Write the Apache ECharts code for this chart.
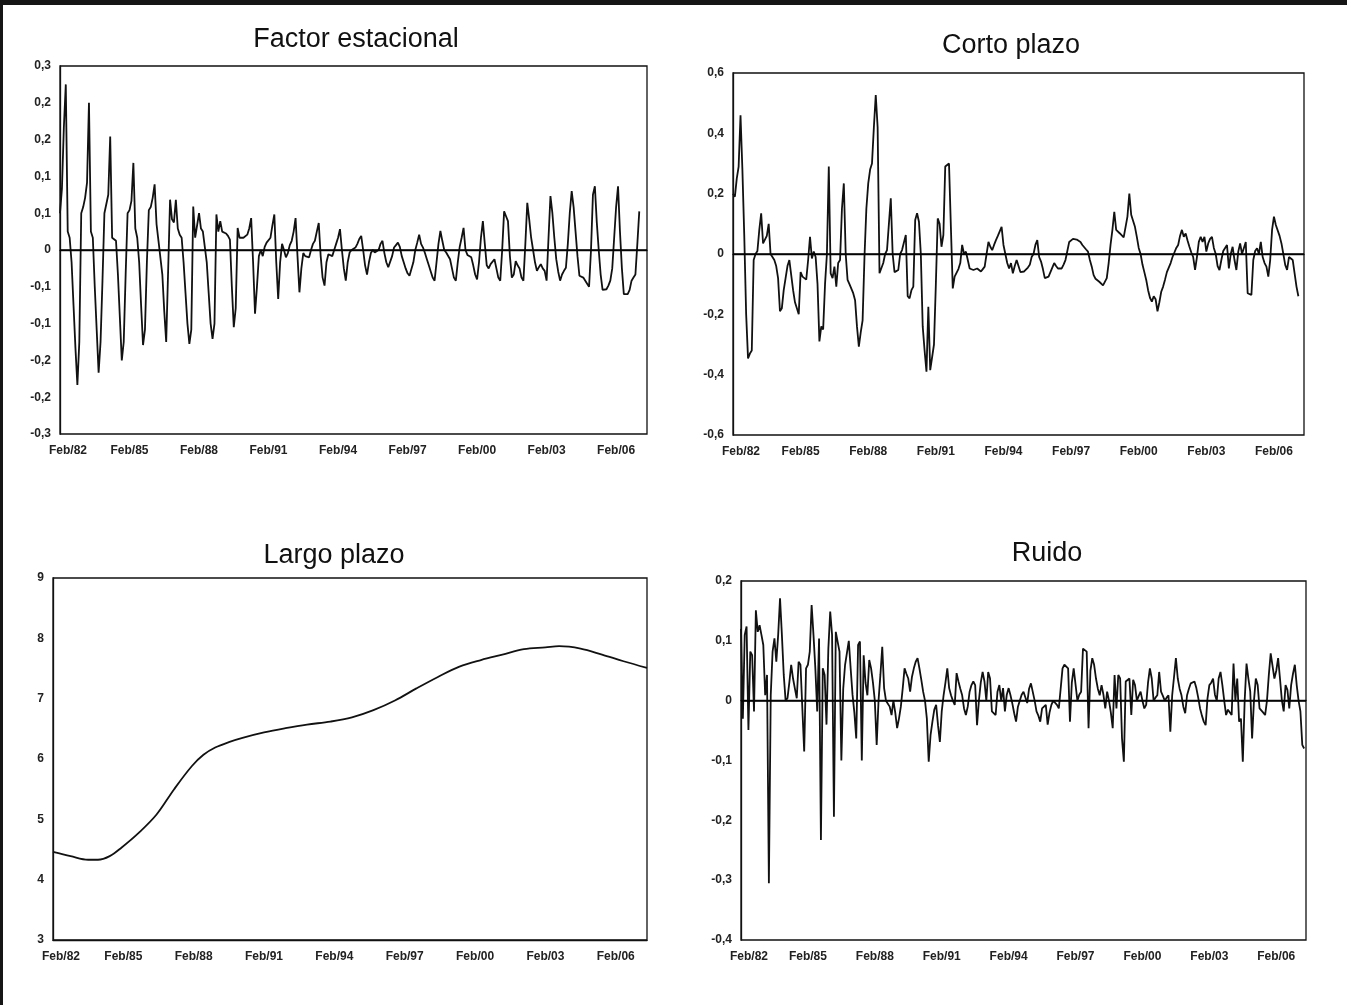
<!DOCTYPE html>
<html>
<head>
<meta charset="utf-8">
<title>Componentes de la serie</title>
<script src="https://cdn.jsdelivr.net/npm/echarts@6/dist/echarts.min.js"></script>
<style>
  html, body { margin: 0; padding: 0; background: #fff; }
  #chart { width: 1347px; height: 1005px; }
</style>
</head>
<body>
<div id="chart"></div>
<script>
// categorias: meses desde Feb/82
const nombresMes = ['Ene', 'Feb', 'Mar', 'Abr', 'May', 'Jun', 'Jul', 'Ago', 'Sep', 'Oct', 'Nov', 'Dic'];
const meses = [];
for (let k = 0; k < 305; k++) {
  const m = (1 + k) % 12;
  const y = 1982 + Math.floor((1 + k) / 12);
  meses.push(nombresMes[m] + '/' + String(y % 100).padStart(2, '0'));
}

// Factor estacional
const estacional = [
  0.06, 0.10, 0.20, 0.27, 0.03, 0.02, -0.02, -0.09, -0.16, -0.22, -0.15, 0.06,
  0.07, 0.085, 0.11, 0.24, 0.03, 0.02, -0.06, -0.13, -0.20, -0.15, -0.05, 0.06,
  0.06, 0.09, 0.185, 0.02, 0.018, 0.015, -0.04, -0.11, -0.18, -0.15, -0.04, 0.06,
  0.065, 0.08, 0.142, 0.035, 0.02, -0.02, -0.09, -0.155, -0.13, -0.02, 0.065,
  0.07, 0.085, 0.107, 0.042, 0.015, 0.015, -0.04, -0.10, -0.15, -0.148, 0.082,
  0.05, 0.045, 0.082, 0.035, 0.025, 0.02, -0.02, -0.07, -0.12, -0.153, -0.13, 0.071,
  0.02, 0.04, 0.06, 0.035, 0.03, 0.028, -0.02, -0.07, -0.12, -0.145, -0.12, 0.058,
  0.03, 0.047, 0.03, 0.032, 0.027, 0.023, 0.017, -0.06, -0.126, -0.095, 0.036,
  0.02, 0.018, 0.02, 0.022, 0.025, 0.035, 0.052, -0.02, -0.104, -0.06, -0.01, 0.0,
  -0.01, 0.005, 0.012, 0.015, 0.02, 0.04, 0.058, -0.02, -0.08, -0.02, 0.01, 0.0,
  -0.012, -0.005, 0.008, 0.015, 0.03, 0.052, -0.01, -0.069, -0.03, -0.005, -0.01, -0.012,
  -0.012, 0.0, 0.01, 0.015, 0.03, 0.044, -0.01, -0.045, -0.058, -0.02, -0.007, -0.01, -0.01, 0.0, 0.01, 0.02,
  0.034, 0.0, -0.03, -0.05, -0.02, -0.004, 0.0, 0.002, 0.004, 0.01, 0.018, 0.023,
  0.0, -0.025, -0.04, -0.02, -0.005, 0.0, -0.004, -0.007, 0.0, 0.01, 0.015, -0.005,
  -0.02, -0.028, -0.03, -0.01, 0.004, 0.008, 0.012, 0.005, -0.01, -0.02, -0.03, -0.038,
  -0.042, -0.045, -0.02, 0.0, 0.012, 0.025, 0.01, 0.004, -0.005, -0.015, -0.025, -0.035,
  -0.045, -0.05, -0.02, 0.01, 0.031, 0.015, 0.0, -0.004, -0.007, -0.015, -0.03, -0.045,
  -0.05, -0.02, 0.005, 0.02, 0.036, 0.0, -0.008, -0.01, -0.012, -0.025, -0.04, -0.048,
  -0.02, 0.02, 0.047, 0.01, -0.025, -0.03, -0.023, -0.02, -0.015, -0.03, -0.045, -0.05,
  0.0, 0.063, 0.055, 0.047, -0.01, -0.045, -0.04, -0.018, -0.025, -0.03, -0.045, -0.05,
  0.01, 0.077, 0.05, 0.02, 0.0, -0.02, -0.034, -0.028, -0.023, -0.03, -0.034, -0.05,
  0.02, 0.088, 0.06, 0.02, -0.015, -0.035, -0.05, -0.04, -0.034, -0.029, 0.01, 0.06,
  0.096, 0.07, 0.03, -0.01, -0.042, -0.044, -0.045, -0.047, -0.055, -0.06, 0.0, 0.09,
  0.104, 0.045, 0.0, -0.04, -0.065, -0.067, -0.064, -0.058, -0.05, -0.03, 0.02, 0.07,
  0.104, 0.03, -0.03, -0.072, -0.075, -0.072, -0.065, -0.05, -0.045, -0.04, 0.01, 0.063
];

// Corto plazo
const cortoPlazo = [
  0.2, 0.19, 0.25, 0.29, 0.46, 0.28, 0.06, -0.2, -0.346, -0.33, -0.32, -0.02,
  0.0, 0.01, 0.08, 0.135, 0.035, 0.04, 0.06, 0.1, 0.0, -0.01, -0.02, -0.04,
  -0.08, -0.19, -0.18, -0.12, -0.08, -0.04, -0.02, -0.07, -0.12, -0.16, -0.18, -0.2,
  -0.06, -0.075, -0.08, -0.085, -0.02, 0.057, -0.015, 0.008, -0.01, -0.1, -0.29, -0.24,
  -0.25, -0.1, 0.0, 0.29, -0.064, -0.08, -0.042, -0.108, -0.03, -0.02, 0.15, 0.234,
  0.0, -0.086, -0.1, -0.115, -0.13, -0.153, -0.24, -0.307, -0.26, -0.22, -0.01, 0.15,
  0.234, 0.28, 0.3, 0.42, 0.527, 0.42, -0.064, -0.064, -0.03, 0.0, 0.013, 0.1,
  0.185, 0.0, -0.06, -0.064, -0.053, 0.0, 0.013, 0.013, 0.063, -0.14, -0.147, -0.12,
  -0.108, 0.113, 0.135, 0.107, 0.0, -0.24, -0.32, -0.39, -0.175, -0.385, -0.39, -0.3,
  -0.1, 0.118, 0.1, 0.024, 0.063, 0.29, 0.295, 0.3, 0.09, -0.114, -0.075, -0.07,
  -0.05, -0.03, 0.03, 0.0, 0.008, -0.02, -0.048, -0.05, -0.053, -0.05, -0.048, -0.052,
  -0.058, -0.05, -0.042, 0.0, 0.04, 0.024, 0.013, 0.03, 0.046, 0.06, 0.075, 0.09,
  0.03, 0.0, -0.03, -0.048, -0.03, -0.064, -0.04, -0.02,
  -0.04, -0.06, -0.064, -0.058, -0.053, -0.045, -0.036, -0.01, 0.0, 0.03, 0.046, -0.01,
  -0.025, -0.05, -0.08, -0.078, -0.075, -0.06, -0.045, -0.03, -0.04, -0.048, -0.048, -0.048,
  -0.035, -0.02, 0.01, 0.04, 0.045, 0.05, 0.052, 0.048, 0.044, 0.04, 0.03, 0.024,
  0.015, 0.008, -0.02, -0.042, -0.07, -0.082, -0.088, -0.092, -0.098, -0.104, -0.108, -0.08,
  -0.03, 0.03, 0.08, 0.14, 0.08, 0.075, 0.068, 0.062, 0.055, 0.052, 0.124, 0.2,
  0.13, 0.13, 0.09, 0.057, 0.02, 0.0, -0.035, -0.06, -0.086, -0.12, -0.145, -0.158,
  -0.14, -0.15, -0.19, -0.16, -0.125, -0.108, -0.085, -0.06, -0.045, -0.03, -0.01, 0.005,
  0.02, 0.03, 0.06, 0.08, 0.057, 0.068, 0.045, 0.024, 0.005, -0.01, -0.053, -0.01,
  0.04, 0.057, 0.04, 0.057, 0.008, 0.035, 0.05, 0.057, 0.02, 0.0, -0.04, -0.053,
  -0.02, 0.01, 0.02, 0.03, -0.048, 0.0, 0.024, -0.02, -0.053, 0.008, 0.035, 0.0,
  0.02, 0.04, -0.13, -0.133, -0.136, -0.02, 0.01, 0.019, 0.0, 0.04, -0.01, -0.03,
  -0.042, -0.075, -0.02, 0.08, 0.124, 0.096, 0.09, 0.06, 0.035, 0.0, -0.036, -0.053,
  -0.01, -0.01, -0.02, -0.064, -0.108, -0.14
];

// Largo plazo (mes, valor)
const largoMes = [0, 9, 18, 23, 29, 35, 44, 53, 62, 71, 77, 83, 90, 97, 108, 119, 130, 142,
  153, 164, 175, 186, 197, 208, 219, 230, 241, 252, 259, 270, 281, 292, 304];
const largoValor = [4.46, 4.39, 4.33, 4.33, 4.39, 4.53, 4.78, 5.08, 5.5, 5.88, 6.07, 6.19,
  6.28, 6.35, 6.44, 6.51, 6.57, 6.62, 6.69, 6.81, 6.97, 7.17, 7.36, 7.53, 7.64, 7.73,
  7.82, 7.85, 7.87, 7.83, 7.73, 7.62, 7.51];

// Ruido
const ruido = [
  0.12, -0.03, 0.11, 0.124, -0.049, 0.082, 0.076, -0.018, 0.151, 0.115, 0.126, 0.11,
  0.093, 0.009, 0.043, -0.305, 0.009, 0.082, 0.104, 0.065, 0.11, 0.171, 0.11, 0.043,
  0.0, 0.004, 0.03, 0.06, 0.037, 0.02, 0.004, 0.065, 0.06, 0.057, -0.085, 0.054,
  0.06, 0.082, 0.16, 0.11, 0.054, -0.018, 0.104, -0.233, 0.054, 0.043, -0.04, 0.087,
  0.149, 0.11, -0.194, 0.115, 0.115, 0.082, -0.1, 0.02, 0.06, 0.08, 0.1, 0.054,
  0.01, -0.02, -0.063, 0.093, 0.099, -0.1, 0.076, 0.03, 0.009, 0.068, 0.054, 0.03,
  0.0, -0.074, 0.0, 0.043, 0.09, 0.021, 0.0, 0.0, -0.01, -0.024, 0.0, -0.02,
  -0.046, -0.03, -0.01, 0.02, 0.054, 0.045, 0.037, 0.015, 0.04, 0.054, 0.065, 0.071,
  0.054, 0.035, 0.015, 0.0, -0.03, -0.102, -0.057, -0.035, -0.015, -0.007, -0.041, -0.069,
  -0.018, 0.009, 0.03, 0.054, 0.021, 0.009, 0.0, -0.007, 0.046, 0.032, 0.02, 0.009,
  -0.013, -0.024, -0.01, 0.015, 0.026, 0.032, 0.026, -0.041, 0.0, 0.03, 0.048, 0.032,
  0.0, 0.048, 0.037, -0.018, -0.02, -0.024, 0.015, 0.026, 0.0, 0.021, -0.018, 0.01,
  0.021, 0.009, -0.005, -0.021, -0.035, -0.01, 0.0, 0.01, 0.015, 0.012, -0.004, 0.02,
  0.029, 0.032, 0.0, -0.018, -0.025, -0.035, -0.013, -0.01, -0.007, -0.04, -0.02, -0.007,
  0.0, 0.001, -0.007, -0.013, 0.02, 0.054, 0.06, 0.057, 0.054, -0.035, 0.03, 0.054,
  0.054, 0.0, 0.01, 0.015, 0.087, 0.085, 0.082, -0.046, 0.05, 0.071, 0.06, 0.037,
  0.02, 0.009, 0.026, 0.01, -0.013, 0.015, 0.0, -0.02, -0.046, 0.043, -0.013, 0.043,
  0.037, -0.063, -0.102, 0.032, 0.035, 0.037, -0.024, 0.035, 0.026, 0.0, 0.008, 0.015,
  0.0, -0.013, -0.007, 0.03, 0.054, 0.037, 0.0, 0.005, 0.009, 0.048, 0.015, 0.008,
  0.0, 0.005, 0.009, -0.052, 0.009, 0.04, 0.071, 0.037, 0.02, 0.009, -0.01, -0.021,
  0.009, 0.02, 0.029, 0.03, 0.032, 0.021, 0.005, -0.013, -0.025, -0.035, -0.041, 0.004,
  0.026, 0.03, 0.037, 0.01, 0.0, 0.037, 0.048, 0.026, 0.0, -0.024, -0.015, -0.013,
  -0.024, 0.062, 0.0, 0.037, -0.035, -0.03, -0.102, 0.0, 0.062, 0.037, 0.015, -0.063,
  0.0, 0.037, 0.026, -0.013, -0.013, -0.02, -0.024, 0.0, 0.043, 0.079, 0.076, 0.037,
  0.05, 0.071, 0.037, 0.001, -0.018, 0.026, 0.018, -0.013, 0.026, 0.045, 0.06, 0.026,
  0.0, -0.018, -0.074, -0.08
];

const myChart = echarts.init(document.getElementById('chart'));

const fuente = 'Liberation Sans, Arial, sans-serif';

const decimal = (v) => {
  if (Math.abs(v) < 1e-9) return '0';
  return v.toFixed(1).replace('.', ',');
};

const ejeX = (idx) => ({
  type: 'category',
  gridIndex: idx,
  data: meses,
  boundaryGap: false,
  axisLine: { show: true, lineStyle: { color: '#111', width: 1.3 } },
  axisTick: { show: false },
  splitLine: { show: false },
  axisLabel: {
    interval: 35,
    margin: 11,
    fontSize: 12,
    fontWeight: 'bold',
    fontFamily: fuente,
    color: '#222',
    // el primer rotulo va un poco corrido a la derecha, como en el original
    formatter: (v, i) => (i === 0 ? '{p|' + v + '}' : v),
    rich: {
      p: { padding: [0, 0, 0, 16], fontSize: 12, fontWeight: 'bold', fontFamily: fuente, color: '#222' },
    },
  },
});

const ejeY = (idx, min, max, interval, formatter) => ({
  type: 'value',
  gridIndex: idx,
  min: min,
  max: max,
  interval: interval,
  axisLine: { show: true, lineStyle: { color: '#111', width: 1.3 } },
  axisTick: { show: false },
  splitLine: { show: false },
  axisLabel: {
    margin: 9,
    fontSize: 12,
    fontWeight: 'bold',
    fontFamily: fuente,
    color: '#222',
    formatter: formatter,
  },
});

const lineaCero = {
  silent: true,
  symbol: ['none', 'none'],
  label: { show: false },
  lineStyle: { color: '#000', width: 1.7, type: 'solid' },
  data: [{ yAxis: 0 }],
};

const serie = (idx, data, conCero, suave) => ({
  type: 'line',
  xAxisIndex: idx,
  yAxisIndex: idx,
  data: data,
  symbol: 'none',
  showSymbol: false,
  smooth: suave,
  lineStyle: { color: '#111', width: 1.8 },
  markLine: conCero ? lineaCero : undefined,
  z: 3,
});

const titulo = (text, centro, top) => ({
  text: text,
  left: centro,
  top: top,
  textAlign: 'center',
  textStyle: { fontSize: 27, fontWeight: 'normal', fontFamily: fuente, color: '#111' },
});

var option = {
  backgroundColor: '#fff',
  animation: false,
  title: [
    titulo('Factor estacional', 351, 21),
    titulo('Corto plazo', 1006, 27),
    titulo('Largo plazo', 329, 537),
    titulo('Ruido', 1042, 535),
  ],
  grid: [
    { left: 60, top: 66, width: 587, height: 368, show: true, borderColor: '#111', borderWidth: 1.3 },
    { left: 733, top: 73, width: 571, height: 362, show: true, borderColor: '#111', borderWidth: 1.3 },
    { left: 53, top: 578, width: 594, height: 362, show: true, borderColor: '#111', borderWidth: 1.3 },
    { left: 741, top: 581, width: 565, height: 359, show: true, borderColor: '#111', borderWidth: 1.3 },
  ],
  xAxis: [ejeX(0), ejeX(1), ejeX(2), ejeX(3)],
  yAxis: [
    ejeY(0, -0.3, 0.3, 0.06, decimal),
    ejeY(1, -0.6, 0.6, 0.2, decimal),
    ejeY(2, 3, 9, 1, (v) => String(v)),
    ejeY(3, -0.4, 0.2, 0.1, decimal),
  ],
  series: [
    serie(0, estacional, true, false),
    serie(1, cortoPlazo, true, false),
    serie(2, largoMes.map((m, k) => [m, largoValor[k]]), false, 0.35),
    serie(3, ruido, true, false),
  ],
  graphic: [
    { type: 'rect', shape: { x: 0, y: 0, width: 1347, height: 5 }, style: { fill: '#151515' }, silent: true },
    { type: 'rect', shape: { x: 0, y: 0, width: 3, height: 1005 }, style: { fill: '#151515' }, silent: true },
  ],
};

myChart.setOption(option);
window.addEventListener('resize', () => {
  myChart.resize();
});
</script>
</body>
</html>
